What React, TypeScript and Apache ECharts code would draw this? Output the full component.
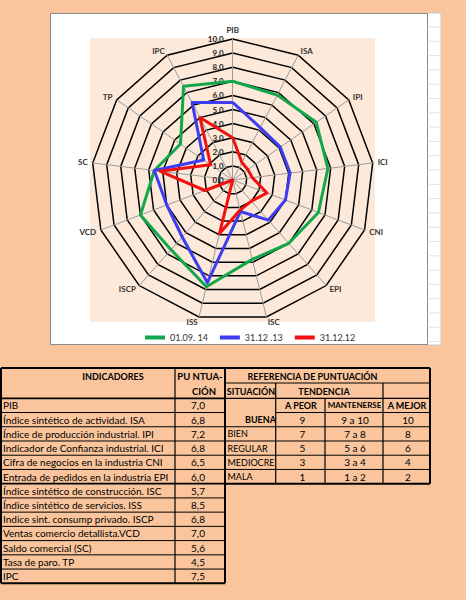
import React, { useEffect, useRef } from "react";
import * as echarts from "echarts";

// ---------- DATA ----------
const indicators = ["PIB", "ISA", "IPI", "ICI", "CNI", "EPI", "ISC", "ISS", "ISCP", "VCD", "SC", "TP", "IPC"];
const seriesNames = ["01.09. 14", "31.12 .13", "31.12.12"];
const values2014 = [7.0, 6.8, 7.2, 6.8, 6.5, 6.0, 5.8, 7.8, 6.6, 7.0, 5.6, 4.5, 7.5];
const values2013 = [5.5, 4.2, 4.1, 4.1, 4.0, 3.8, 2.3, 7.5, 5.4, 5.0, 5.6, 2.5, 6.2];
const values2012 = [3.0, 1.4, 1.3, 1.4, 2.6, 2.0, 2.2, 3.9, 0.0, 2.1, 5.2, 1.9, 5.0];
const seriesColors = ["#12A84A", "#3C3CF0", "#F01010"];

const tableIndicators = [
  "PIB",
  "Índice sintético de actividad. ISA",
  "Índice de producción industrial. IPI",
  "Indicador de Confianza industrial. ICI",
  "Cifra de negocios en la industria CNI",
  "Entrada de pedidos en la industria EPI",
  "Índice sintético de construcción. ISC",
  "Índice sintético de servicios. ISS",
  "Indice sint. consump privado. ISCP",
  "Ventas comercio detallista.VCD",
  "Saldo comercial (SC)",
  "Tasa de paro. TP",
  "IPC",
];
const tableScores = ["7,0", "6,8", "7,2", "6,8", "6,5", "6,0", "5,7", "8,5", "6,8", "7,0", "5,6", "4,5", "7,5"];
const situations = ["BUENA", "BIEN", "REGULAR", "MEDIOCRE", "MALA"];
const aPeor = ["9", "7", "5", "3", "1"];
const mantenerse = ["9 a 10", "7 a 8", "5 a 6", "3 a 4", "1 a 2"];
const aMejor = ["10", "8", "6", "4", "2"];

const FONT = 'Lato, "Open Sans", sans-serif';

function buildOption() {
  const n = indicators.length;
  // ECharts places radar indicators counter-clockwise; reorder for clockwise display
  const order = indicators.map((_, j) => (n - j) % n);
  const reorder = (arr: number[]) => order.map((i) => arr[i]);

  const indicatorOpt = order.map((i, j) => {
    const o: any = { name: indicators[i], min: 0, max: 10 };
    if (j === 0) {
      o.axisLabel = {
        show: true,
        formatter: (v: number) => v.toFixed(1),
        fontSize: 8,
        fontWeight: "bold",
        color: "#222",
        fontFamily: FONT,
        margin: 9,
      };
    }
    return o;
  });

  const g: any[] = [];
  const rect = (x: number, y: number, w: number, h: number, fill: string, stroke?: string, z = -10) =>
    g.push({ type: "rect", shape: { x, y, width: w, height: h }, style: { fill, stroke: stroke || null, lineWidth: 1 }, z, silent: true });
  const line = (x1: number, y1: number, x2: number, y2: number, w = 1, color = "#000") =>
    g.push({ type: "line", shape: { x1, y1, x2, y2 }, style: { stroke: color, lineWidth: w }, z: 20, silent: true });
  const text = (t: string, x: number, y: number, opts: any = {}) =>
    g.push({
      type: "text",
      x,
      y,
      z: 21,
      silent: true,
      style: {
        text: t,
        fill: "#000",
        fontSize: opts.size || 10,
        fontWeight: opts.bold ? "bold" : "normal",
        fontFamily: FONT,
        align: opts.align || "left",
        verticalAlign: "middle",
      },
    });

  // chart frame
  rect(427, 13, 14, 332, "#ffffff", "#c8c8c8");
  for (let y = 27; y < 345; y += 14.3) line(427, y, 441, y, 0.6, "#d0d0d0");
  rect(50.5, 13.5, 377, 331, "#ffffff", "#8a8a8a");
  rect(90, 38, 285, 284, "#FDE9D9", null as any, -9);

  // ---- left table ----
  const L0 = 1, L1 = 175, L2 = 225, T0 = 368, H0 = 398.3, RH = 14.23;
  const rowY = (i: number) => H0 + i * RH;
  const Lbottom = rowY(tableIndicators.length);
  for (let i = 1; i < tableIndicators.length; i++) line(L0, rowY(i), L2, rowY(i), i === 6 ? 1.8 : 1);
  line(L0, H0, L2, H0, 1.8);
  line(L1, T0, L1, Lbottom, 1.2);
  line(L0, T0, L2, T0, 2);
  line(L0, Lbottom, L2, Lbottom, 2);
  line(L0, T0, L0, Lbottom, 2);
  line(L2, T0, L2, Lbottom, 2);
  text("INDICADORES", 113, 376, { bold: true, size: 9, align: "center" });
  text("PU NTUA-", 200, 376, { bold: true, size: 9.5, align: "center" });
  text("CIÓN", 204, 391, { bold: true, size: 9.5, align: "center" });
  tableIndicators.forEach((t, i) => {
    text(t, 3, rowY(i) + RH / 2, { size: 10 });
    text(tableScores[i], 198, rowY(i) + RH / 2, { size: 10, align: "center" });
  });

  // ---- right table ----
  const R0 = 225, R1 = 275.7, R2 = 325, R3 = 383, R4 = 430;
  const Rr1 = 383, Rbottom = rowY(6);
  line(R0, T0, R4, T0, 2);
  line(R0, Rr1, R4, Rr1, 1.2);
  line(R0, H0, R4, H0, 1.2);
  line(R1, rowY(1), R4, rowY(1), 1);
  for (let i = 2; i < 6; i++) line(R0, rowY(i), R4, rowY(i), 1);
  line(R0, Rbottom, R4, Rbottom, 2);
  line(R1, Rr1, R1, Rbottom, 1.2);
  line(R2, H0, R2, Rbottom, 1.2);
  line(R3, Rr1, R3, Rbottom, 1.2);
  line(R4, T0, R4, Rbottom, 2);
  text("REFERENCIA DE PUNTUACIÓN", 312.5, 376, { bold: true, size: 9, align: "center" });
  text("SITUACIÓN", 251, 391, { bold: true, size: 9, align: "center" });
  text("TENDENCIA", 324, 391, { bold: true, size: 9, align: "center" });
  text("A PEOR", 301, rowY(0) + RH / 2, { bold: true, size: 9, align: "center" });
  text("MANTENERSE", 354.5, rowY(0) + RH / 2, { bold: true, size: 8, align: "center" });
  text("A MEJOR", 407, rowY(0) + RH / 2, { bold: true, size: 9, align: "center" });
  situations.forEach((s, k) => {
    const cy = rowY(k + 1) + RH / 2;
    if (k === 0) text(s, 260.5, cy, { bold: true, size: 9, align: "center" });
    else text(s, 227.5, cy, { size: 9 });
    text(aPeor[k], 302.5, cy, { size: 10, align: "center" });
    text(mantenerse[k], 355, cy, { size: 10, align: "center" });
    text(aMejor[k], 408, cy, { size: 10, align: "center" });
  });

  const dataSets = [values2014, values2013, values2012];

  return {
    animation: false,
    backgroundColor: "#FAC59C",
    graphic: g,
    legend: {
      left: 140,
      top: 328,
      itemWidth: 20,
      itemHeight: 4,
      itemGap: 12,
      icon: "rect",
      textStyle: { fontSize: 9, color: "#333", fontFamily: FONT },
      data: seriesNames,
    },
    radar: {
      center: [232.7, 180],
      radius: 141,
      startAngle: 90,
      splitNumber: 10,
      shape: "polygon",
      indicator: indicatorOpt,
      axisName: { color: "#333", fontSize: 8, fontWeight: "bold", fontFamily: FONT },
      nameGap: 5,
      axisLabel: { show: false },
      axisLine: { lineStyle: { color: "#9a9a9a", width: 1 } },
      splitLine: { lineStyle: { color: "#000", width: 1.5 } },
      splitArea: { show: false },
    },
    series: [
      {
        type: "radar",
        symbol: "none",
        data: dataSets.map((vals, k) => ({
          name: seriesNames[k],
          value: reorder(vals),
          itemStyle: { color: seriesColors[k] },
          lineStyle: { color: seriesColors[k], width: 3 },
        })),
      },
    ],
  };
}

export default function App() {
  const ref = useRef<HTMLDivElement>(null);
  useEffect(() => {
    if (!ref.current) return;
    const chart = echarts.init(ref.current, undefined, { renderer: "svg" });
    chart.setOption(buildOption() as any);
    return () => chart.dispose();
  }, []);
  return <div ref={ref} style={{ position: "absolute", left: 0, top: 0, width: 466, height: 600 }} />;
}
